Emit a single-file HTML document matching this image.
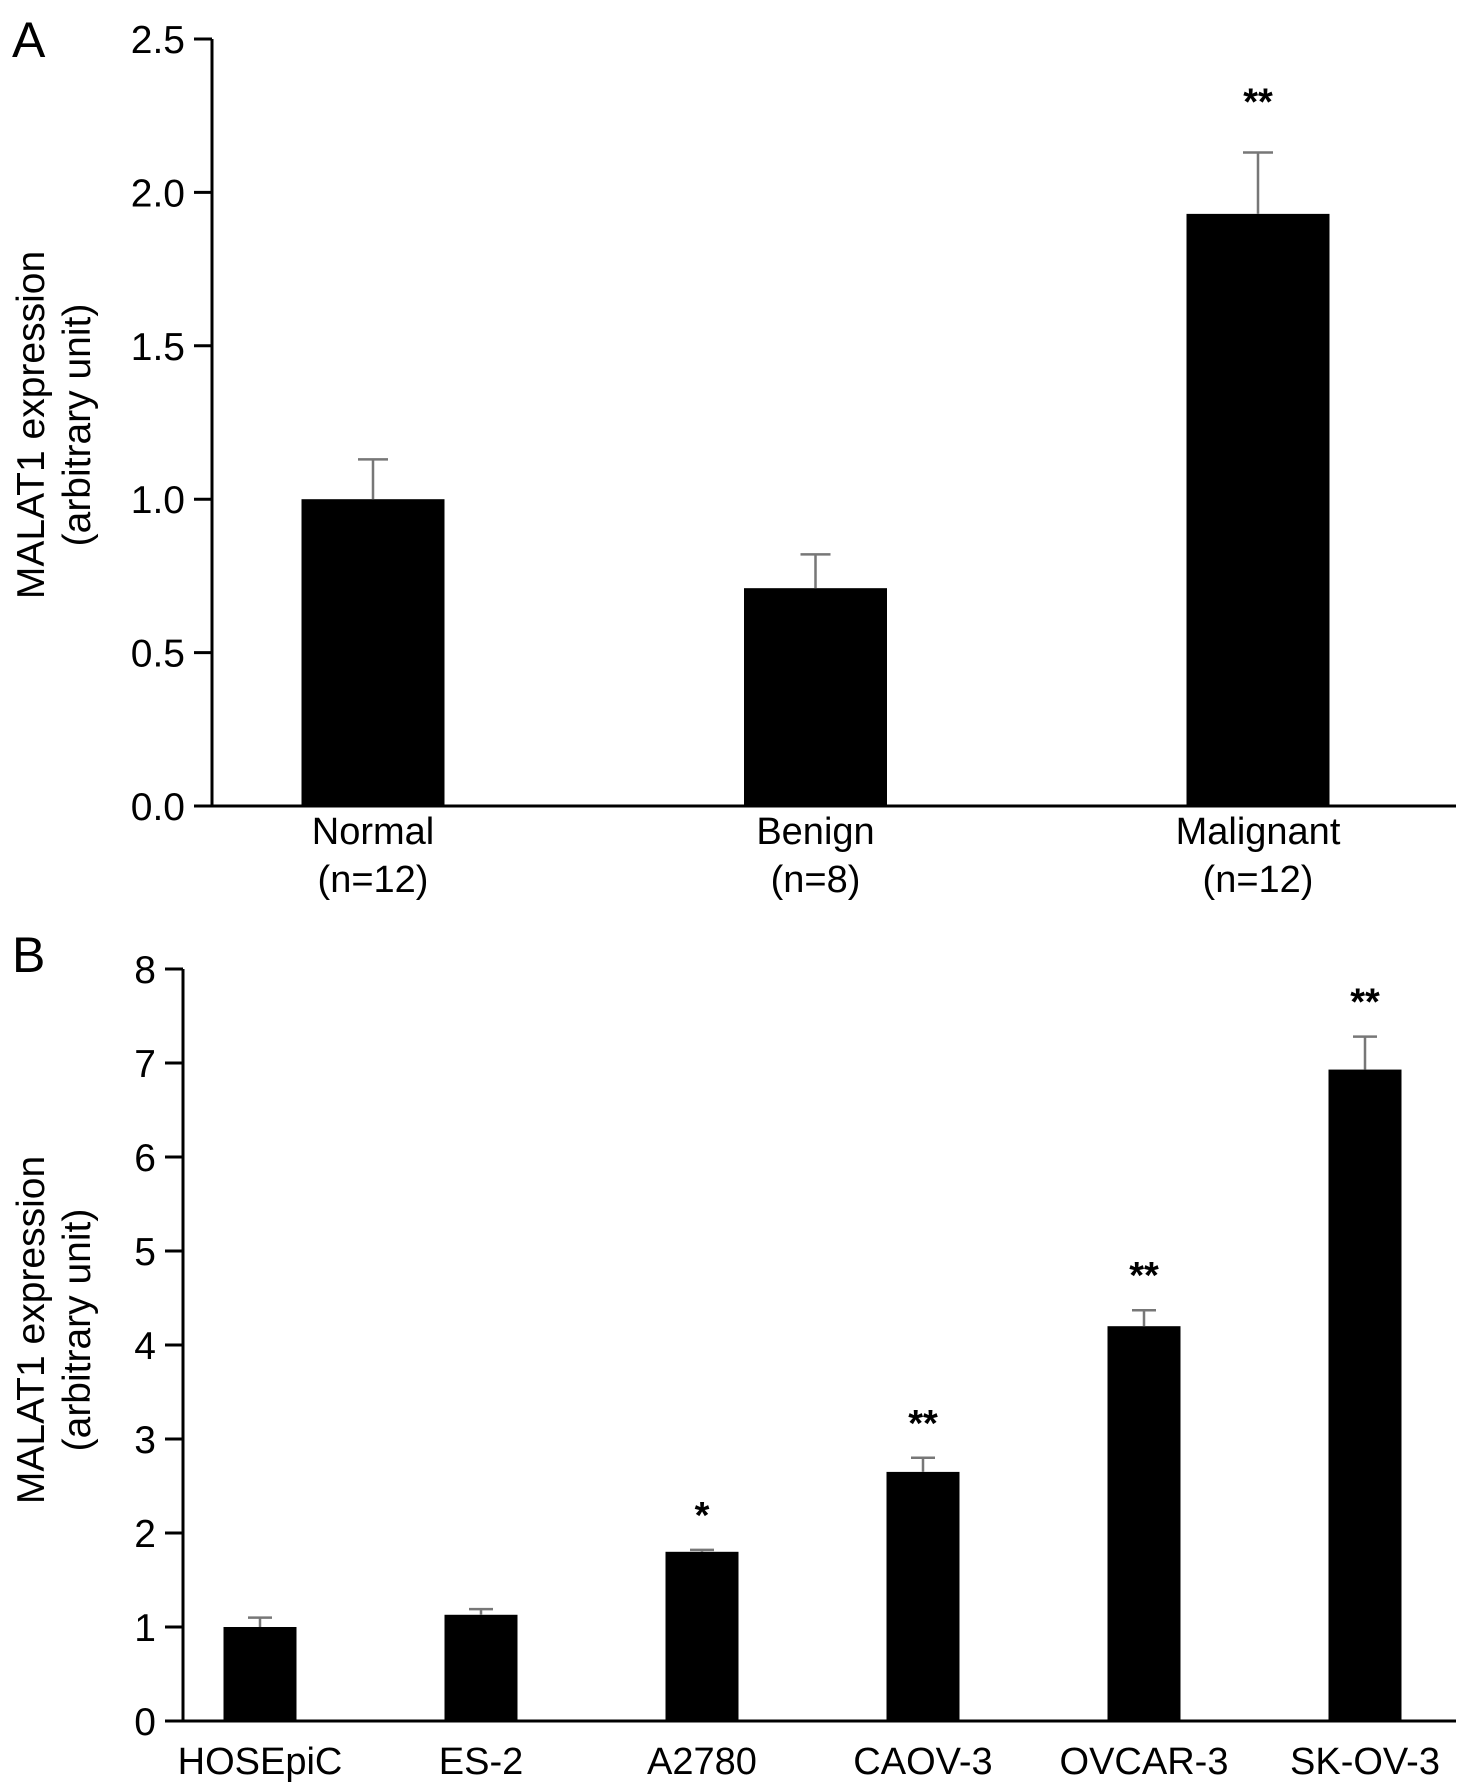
<!DOCTYPE html>
<html><head><meta charset="utf-8"><style>
html,body{margin:0;padding:0;background:#fff;}
svg text{font-family:"Liberation Sans",sans-serif;fill:#000;}
</style></head><body>
<svg id="fig" width="1476" height="1786" viewBox="0 0 1476 1786" xmlns="http://www.w3.org/2000/svg">
<g id="ga"></g>
<g id="gb"></g>
</svg>
<script>
const catsA = ["Normal","Benign","Malignant"];
const subA = ["(n=12)","(n=8)","(n=12)"];
const valsA = [1.0, 0.71, 1.93];
const errA = [0.13, 0.11, 0.20];
const starsA = ["", "", "**"];
const ticksA = ["0.0","0.5","1.0","1.5","2.0","2.5"];

const catsB = ["HOSEpiC","ES-2","A2780","CAOV-3","OVCAR-3","SK-OV-3"];
const valsB = [1.0, 1.13, 1.8, 2.65, 4.2, 6.93];
const errB = [0.1, 0.06, 0.02, 0.15, 0.17, 0.35];
const starsB = ["", "", "*", "**", "**", "**"];
const ticksB = ["0","1","2","3","4","5","6","7","8"];

const NS="http://www.w3.org/2000/svg";
function mk(p,tag,attrs,txt){const e=document.createElementNS(NS,tag);for(const k in attrs)e.setAttribute(k,attrs[k]);if(txt!==undefined)e.textContent=txt;p.appendChild(e);return e;}

function panel(g,o){
  const y=v=>o.y0-(v-o.min)/(o.max-o.min)*(o.y0-o.yTop);
  const x=i=>o.x0c+i*o.step;
  let e=mk(g,"line",{x1:o.ax,y1:o.yTop,x2:o.ax,y2:o.y0,stroke:"#000","stroke-width":3});
  
  
  e=mk(g,"line",{x1:o.ax-18,y1:o.y0,x2:o.xEnd,y2:o.y0,stroke:"#000","stroke-width":3});
  
  
  o.ticks.forEach(t=>{
    const v=parseFloat(t);
    const tl=mk(g,"line",{x1:o.ax-18,y1:y(v),x2:o.ax,y2:y(v),stroke:"#000","stroke-width":3});
    
    
    const tt=mk(g,"text",{x:o.ax-27,y:y(v)+14,"text-anchor":"end","font-size":39},t);
    
    
  });
  o.cats.forEach((c,i)=>{
    const cx=x(i),v=o.vals[i],top=y(v),et=y(v+o.err[i]);
    const b=mk(g,"rect",{x:cx-o.bw/2,y:top,width:o.bw,height:o.y0-top,fill:"#000"});
    
    
    const el=mk(g,"path",{d:`M${cx},${top} V${et} M${cx-o.cap},${et} H${cx+o.cap}`,stroke:"#777","stroke-width":2.5,fill:"none"});
    
    
    if(o.stars[i]){
      const s=mk(g,"text",{x:cx,y:et-o.starOff,"text-anchor":"middle","font-size":38,"font-weight":"bold"},o.stars[i]);
      
      
    }
    const l=mk(g,"text",{x:cx,y:o.lblY,"text-anchor":"middle","font-size":38},c);
    
    
    if(o.sub){
      const s2=mk(g,"text",{x:cx,y:o.lblY+48,"text-anchor":"middle","font-size":38},o.sub[i]);
      
      
    }
  });
  const yt=mk(g,"text",{transform:`translate(${o.titleX},${o.titleY}) rotate(-90)`,"text-anchor":"middle","font-size":39});
  
  
  mk(yt,"tspan",{x:0,dy:0},"MALAT1 expression");
  mk(yt,"tspan",{x:0,dy:46},"(arbitrary unit)");
  const pl=mk(g,"text",{x:12,y:o.letterY,"font-size":50},o.letter);
  
  
}

panel(document.getElementById("ga"),{min:0,max:2.5,y0:806,yTop:39,ax:212,xEnd:1456,x0c:373,step:885/2,bw:143,cap:15,
  cats:catsA,sub:subA,vals:valsA,err:errA,stars:starsA,ticks:ticksA,starOff:38,lblY:844,titleX:44,titleY:425,letter:"A",letterY:57});
panel(document.getElementById("gb"),{min:0,max:8,y0:1721,yTop:969,ax:183,xEnd:1456,x0c:260,step:221,bw:73,cap:12,
  cats:catsB,sub:null,vals:valsB,err:errB,stars:starsB,ticks:ticksB,starOff:22,lblY:1774,titleX:44,titleY:1330,letter:"B",letterY:972});
</script>
</body></html>
